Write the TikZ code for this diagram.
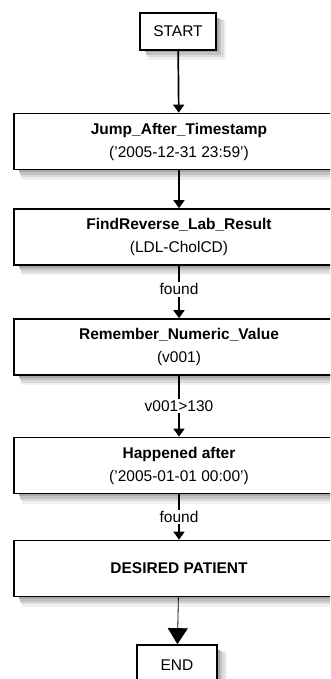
\documentclass[tikz,border=0pt]{standalone}
\usepackage{fontspec}
\setmainfont{Liberation Sans}
\usetikzlibrary{arrows.meta}
\begin{document}
\begin{tikzpicture}[x=1pt,y=-1pt,
  box/.style={draw=black,line width=1.7pt,fill=white,align=center,
    inner sep=0pt,font=\fontsize{15.5}{23}\selectfont},
  wide/.style={box,minimum width=330pt,minimum height=56pt},
  flow/.style={line width=1.7pt,-{Triangle[width=11pt,length=8pt]}},
  cond/.style={fill=white,inner sep=1.5pt,font=\fontsize{15.5}{17}\selectfont}]
\useasboundingbox (0,0) rectangle (330,679);
\clip (0,0) rectangle (330,679);
\fill[white] (0,0) rectangle (330,679);

% soft drop shadows: nested bands, lightest and widest first
\foreach \lft/\bot/\rgt in {140/50/216, 14/169.5/344, 14/265/344, 14/375/344, 14/493.5/344, 14/596.5/344, 137/685/217}{
  \fill[black!6]  (\lft+8,\bot) rectangle (\rgt+4,\bot+10);
  \fill[black!14] (\lft+7,\bot) rectangle (\rgt+4,\bot+7.5);
  \fill[black!24] (\lft+6,\bot) rectangle (\rgt+4,\bot+5);
  \fill[black!34] (\lft+5,\bot) rectangle (\rgt+4,\bot+2.5);
}
\foreach \top/\bot/\rgt in {13/50/216, 645/685/217}{
  \fill[black!6]  (\rgt,\top+8) rectangle (\rgt+10,\bot+10);
  \fill[black!14] (\rgt,\top+7) rectangle (\rgt+7.5,\bot+7.5);
  \fill[black!24] (\rgt,\top+6) rectangle (\rgt+5,\bot+5);
  \fill[black!34] (\rgt,\top+5) rectangle (\rgt+2.5,\bot+2.5);
}

\node[box,minimum width=76pt,minimum height=37pt] (start) at (178,31.5) {START};
\node[wide] (jump) at (179,141.5) {\textbf{Jump\_After\_Timestamp}\\('2005-12-31 23:59')};
\node[wide] (find) at (179,237) {\textbf{FindReverse\_Lab\_Result}\\(LDL-CholCD)};
\node[wide] (rem) at (179,347) {\textbf{Remember\_Numeric\_Value}\\(v001)};
\node[wide] (hap) at (179,465.5) {\textbf{Happened after}\\('2005-01-01 00:00')};
\node[wide] (des) at (179,568.5) {\textbf{DESIRED PATIENT}};
\node[box,minimum width=80pt,minimum height=40pt] (end) at (177,665) {END};

\draw[flow] (start) -- (jump);
\draw[flow] (jump) -- (find);
\draw[flow] (find) -- node[cond,pos=0.45] (l1) {found} (rem);
\draw[flow] (rem) -- node[cond,pos=0.5] (l2) {v001>130} (hap);
\draw[flow] (hap) -- node[cond,pos=0.5] (l3) {found} (des);
\draw[line width=0.8pt,-{Triangle[width=20pt,length=16pt]}] (des) -- (end);
\end{tikzpicture}
\end{document}
